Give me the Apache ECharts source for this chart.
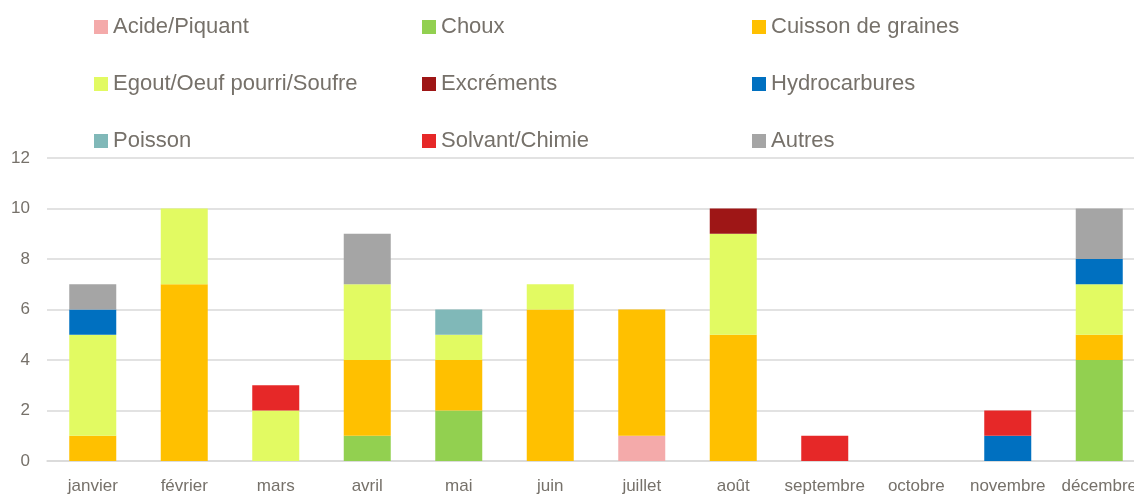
<!DOCTYPE html>
<html>
<head>
<meta charset="utf-8">
<script src="https://cdn.jsdelivr.net/npm/echarts@6/dist/echarts.min.js"></script>
<style>
  html, body { margin: 0; padding: 0; background: #fff; }
  #chart1 { width: 1134px; height: 495px; }
</style>
</head>
<body>
<div id="chart1"></div>
<script>
    var mois = ['janvier', 'février', 'mars', 'avril', 'mai', 'juin', 'juillet', 'août', 'septembre', 'octobre', 'novembre', 'décembre'];

    // valeurs par type d'odeur, de janvier à décembre
    var acide       = [0, 0, 0, 0, 0, 0, 1, 0, 0, 0, 0, 0];
    var choux       = [0, 0, 0, 1, 2, 0, 0, 0, 0, 0, 0, 4];
    var cuisson     = [1, 7, 0, 3, 2, 6, 5, 5, 0, 0, 0, 1];
    var egout       = [4, 3, 2, 3, 1, 1, 0, 4, 0, 0, 0, 2];
    var excrements  = [0, 0, 0, 0, 0, 0, 0, 1, 0, 0, 0, 0];
    var hydro       = [1, 0, 0, 0, 0, 0, 0, 0, 0, 0, 1, 1];
    var poisson     = [0, 0, 0, 0, 1, 0, 0, 0, 0, 0, 0, 0];
    var solvant     = [0, 0, 1, 0, 0, 0, 0, 0, 1, 0, 1, 0];
    var autres      = [1, 0, 0, 2, 0, 0, 0, 0, 0, 0, 0, 2];

    var yTicks = [0, 2, 4, 6, 8, 10, 12];

    var police = 'Liberation Sans, Arial, sans-serif';
    var gris = '#76716A';

    var series = [
        { name: 'Acide/Piquant', data: acide, color: '#F4AAAA' },
        { name: 'Choux', data: choux, color: '#92D050' },
        { name: 'Cuisson de graines', data: cuisson, color: '#FFC000' },
        { name: 'Egout/Oeuf pourri/Soufre', data: egout, color: '#E2FA62' },
        { name: 'Excréments', data: excrements, color: '#9E1616' },
        { name: 'Hydrocarbures', data: hydro, color: '#0070C0' },
        { name: 'Poisson', data: poisson, color: '#80B8B8' },
        { name: 'Solvant/Chimie', data: solvant, color: '#E62828' },
        { name: 'Autres', data: autres, color: '#A5A5A5' }
    ].map(function (s) {
        return {
            name: s.name,
            type: 'bar',
            stack: 'total',
            barWidth: 47,
            itemStyle: { color: s.color },
            data: s.data.map(function (v) { return v === 0 ? null : v; })
        };
    });

    // une légende verticale par colonne
    function legende(left, noms) {
        return {
            orient: 'vertical',
            left: left,
            top: 9,
            itemWidth: 14,
            itemHeight: 14,
            itemGap: 31,
            itemTextGap: 6,
            icon: 'rect',
            textStyle: { fontFamily: police, fontSize: 22, lineHeight: 26, color: gris },
            data: noms
        };
    }

    var option = {
        animation: false,
        legend: [
            legende(89, ['Acide/Piquant', 'Egout/Oeuf pourri/Soufre', 'Poisson']),
            legende(417, ['Choux', 'Excréments', 'Solvant/Chimie']),
            legende(747, ['Cuisson de graines', 'Hydrocarbures', 'Autres'])
        ],
        grid: { left: 47, top: 158, bottom: 34, right: -11, outerBoundsMode: 'none' },
        xAxis: {
            type: 'category',
            data: mois,
            axisTick: { show: false },
            axisLine: { lineStyle: { color: '#D9D9D9', width: 1.5 } },
            axisLabel: { fontFamily: police, fontSize: 17, color: gris, margin: 17, interval: 0 }
        },
        yAxis: {
            type: 'value',
            min: yTicks[0],
            max: yTicks[yTicks.length - 1],
            interval: 2,
            axisLine: { show: false },
            axisTick: { show: false },
            axisLabel: { fontFamily: police, fontSize: 17, color: gris, margin: 17 },
            splitLine: { lineStyle: { color: '#D9D9D9', width: 1.5 } }
        },
        series: series
    };

    var myChart = echarts.init(document.getElementById('chart1'));
    myChart.setOption(option);
</script>
</body>
</html>
